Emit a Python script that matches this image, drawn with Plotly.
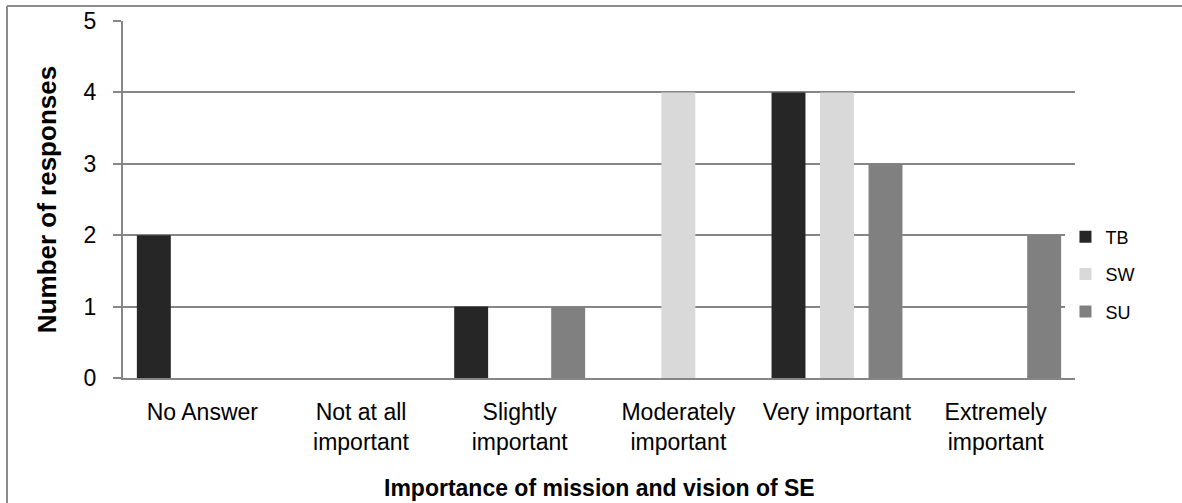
import plotly.graph_objects as go

categories = ["No Answer", "Not at all<br>important", "Slightly<br>important",
              "Moderately<br>important", "Very important", "Extremely<br>important"]
series_names = ["TB", "SW", "SU"]
tb_values = [2, 0, 1, 0, 4, 0]
sw_values = [0, 0, 0, 4, 4, 0]
su_values = [0, 0, 1, 0, 3, 2]
y_ticks = [0, 1, 2, 3, 4, 5]

colors = {"TB": "#262626", "SW": "#d9d9d9", "SU": "#808080"}
font_family = "Liberation Sans, Arial, sans-serif"

W, H = 1182, 503
L, R, T, B = 123, 107, 21, 125
plot_w = W - L - R
plot_h = H - T - B

fig = go.Figure()
for name, vals in zip(series_names, [tb_values, sw_values, su_values]):
    fig.add_trace(go.Bar(x=categories, y=vals, name=name, legendgroup=name,
                         marker=dict(color=colors[name], line=dict(width=0))))

# outer chart frame: only the top and left edges are visible in the crop
frame_x0 = (7 - L) / plot_w
frame_top = (plot_h + T - 6) / plot_h
fig.add_shape(type="line", xref="paper", yref="paper",
              x0=frame_x0, x1=(W + 40 - L) / plot_w, y0=frame_top, y1=frame_top,
              line=dict(color="#8c8c8c", width=2), layer="below")
fig.add_shape(type="line", xref="paper", yref="paper",
              x0=frame_x0, x1=frame_x0, y0=frame_top, y1=-(B + 40) / plot_h,
              line=dict(color="#8c8c8c", width=2), layer="below")

# x-axis title placed as an annotation so its height matches the original
fig.add_annotation(text="<b>Importance of mission and vision of SE</b>",
                   xref="paper", yref="paper", x=0.5, y=-(488 - (T + plot_h)) / plot_h,
                   xanchor="center", yanchor="middle", showarrow=False,
                   font=dict(size=23, family=font_family, color="#000000"))

fig.update_layout(
    barmode="group",
    bargap=0.083,
    bargroupgap=0.3,
    width=W, height=H,
    margin=dict(l=L, r=R, t=T, b=B),
    plot_bgcolor="white",
    paper_bgcolor="white",
    font=dict(family=font_family, color="#000000"),
    legend=dict(x=0.99, xanchor="left", y=0.29, yanchor="middle",
                font=dict(size=18), tracegroupgap=11, traceorder="grouped"),
    xaxis=dict(
        automargin=False,
        showline=True, linecolor="#868686", linewidth=2,
        tickfont=dict(size=23), ticks="", ticklabelstandoff=12,
    ),
    yaxis=dict(
        automargin=False,
        range=[0, 5], tickvals=y_ticks,
        showline=True, linecolor="#868686", linewidth=2,
        showgrid=True, gridcolor="#868686", gridwidth=1.5,
        zeroline=False,
        ticks="outside", ticklen=8, tickcolor="#868686", tickwidth=2,
        tickfont=dict(size=23), ticklabelstandoff=12,
        title=dict(text="<b>Number of responses</b>", font=dict(size=26), standoff=20),
    ),
)

fig.write_html("out.html", config={"displayModeBar": False},
               post_script="document.body.style.margin='0px';")
